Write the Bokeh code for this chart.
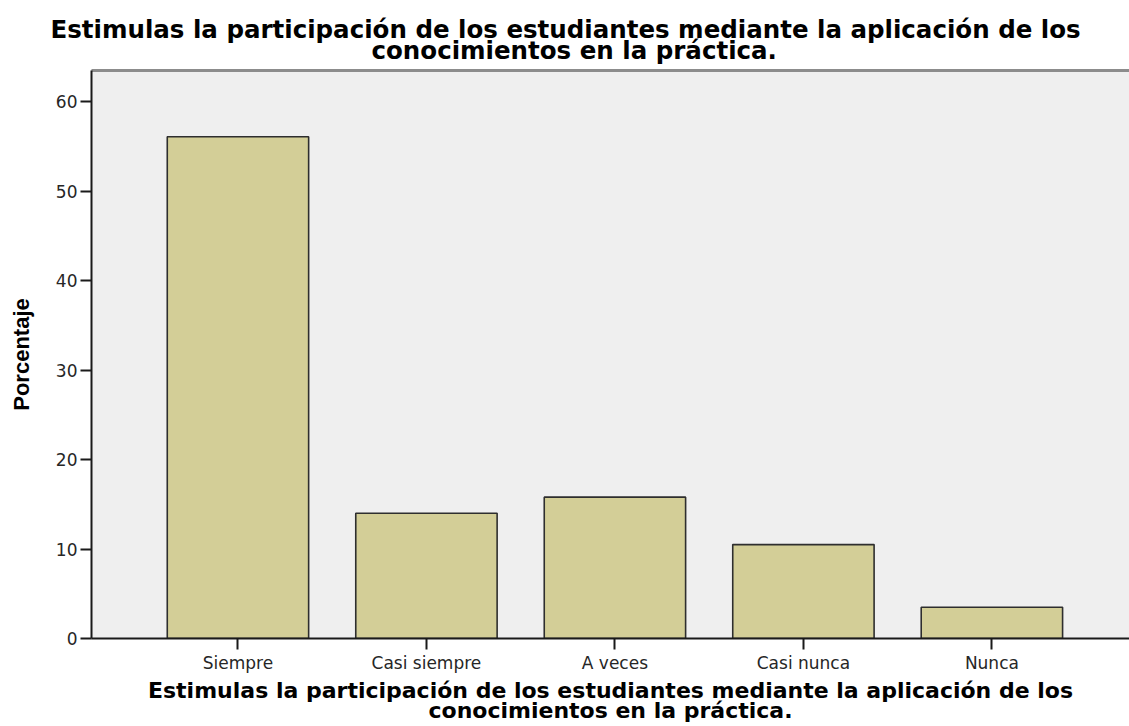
from bokeh.plotting import figure
from bokeh.models import Range1d, FixedTicker, LinearAxis, Title, ColumnDataSource
from bokeh.embed import file_html
from bokeh.resources import INLINE

# ---- data ----
title_lines = ["Estimulas la participación de los estudiantes mediante la aplicación de los",
               "conocimientos en la práctica."]
categories = ["Siempre", "Casi siempre", "A veces", "Casi nunca", "Nunca"]
percent = [56.1, 14.0, 15.8, 10.5, 3.5]
y_ticks = [0, 10, 20, 30, 40, 50, 60]
y_label = "Porcentaje"

xpos = list(range(len(categories)))
src = ColumnDataSource(dict(x=xpos, pct=percent, cat=categories))

p = figure(width=1129, height=726, output_backend="svg", toolbar_location=None,
           x_range=Range1d(-0.777, 4.73), y_range=Range1d(0, 63.5),
           min_border_left=91, min_border_top=70, min_border_bottom=88, min_border_right=0)

p.vbar(x="x", top="pct", width=0.75, bottom=0, source=src,
       fill_color="#D3CE97", line_color="#2e2e2e", line_width=1.6)

p.grid.visible = False
p.outline_line_color = None
p.background_fill_color = "#EFEFEF"
p.border_fill_color = "white"

p.xaxis.ticker = FixedTicker(ticks=xpos)
p.xaxis.major_label_overrides = {i: c for i, c in enumerate(categories)}
p.yaxis.ticker = FixedTicker(ticks=y_ticks)

for ax in (p.xaxis[0], p.yaxis[0]):
    ax.axis_line_color = "#1a1a1a"
    ax.axis_line_width = 2
    ax.major_tick_line_color = "#1a1a1a"
    ax.major_tick_line_width = 2
    ax.major_tick_out = 11
    ax.major_tick_in = 0
    ax.minor_tick_line_color = None
    ax.major_label_standoff = 3
    ax.major_label_text_font = "DejaVu Sans"
    ax.major_label_text_font_size = "17px"
    ax.major_label_text_color = "#262626"
    ax.axis_label_text_color = "black"
    ax.axis_label_text_font_style = "bold"

p.xaxis.axis_label = "\n".join(title_lines)
p.xaxis.axis_label_text_font = "DejaVu Sans"
p.xaxis.axis_label_text_font_size = "22px"
p.xaxis.axis_label_text_line_height = 0.81
p.xaxis.axis_label_standoff = 2

p.yaxis.axis_label = y_label
p.yaxis.axis_label_text_font = "Liberation Sans"
p.yaxis.axis_label_text_font_size = "22px"
p.yaxis.axis_label_standoff = 19

top = LinearAxis(ticker=FixedTicker(ticks=[]), axis_line_color="#8c8c8c", axis_line_width=3,
                 major_label_text_font_size="0px", major_tick_line_color=None,
                 minor_tick_line_color=None, major_tick_out=0, major_tick_in=0,
                 major_label_standoff=0)
p.add_layout(top, "above")

title_font = dict(text_font="DejaVu Sans", text_font_style="bold", text_font_size="24.5px",
                  text_color="black")
title2 = Title(text=title_lines[1], align="left", offset=280, standoff=11.4,
               vertical_align="bottom", **title_font)
p.add_layout(title2, "above")
title1 = Title(text=title_lines[0], align="left", offset=-41, standoff=-30.4,
               vertical_align="bottom", **title_font)
p.add_layout(title1, "above")

open("out.html", "w").write(file_html(p, INLINE))
